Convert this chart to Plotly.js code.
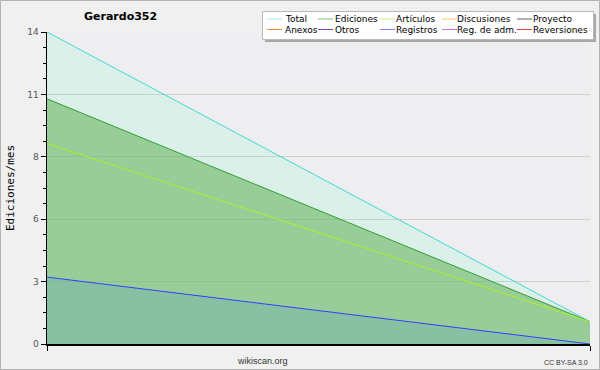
<!DOCTYPE html>
<html><head><meta charset="utf-8">
<script src="https://cdn.plot.ly/plotly-3.0.1.min.js"></script>
<style>html,body{margin:0;padding:0;background:#f0f0f0}#c{width:600px;height:370px}</style>
</head><body><div id="c"></div>
<script>
// Data
const periodo = [0, 1];
const total = [14, 1];
const ediciones = [11, 1];
const articulos = [9, 1];
const registros = [3, 0];
const yTickVals = [0, 2.8, 5.6, 8.4, 11.2, 14];
const yTickText = ['0', '3', '6', '8', '11', '14'];
const legendNames = [['Total','Ediciones','Artículos','Discusiones','Proyecto'],
                     ['Anexos','Otros','Registros','Reg. de adm.','Reversiones']];
const legendColors = [['#a8e8e8','#80c080','#c8f080','#f0d070','#606060'],
                      ['#f09050','#8040c0','#8080f0','#d070e0','#e04040']];

const L = 47, R = 590, T = 32, B = 344, W = 600, H = 370;
const X = px => (px - L) / (R - L);
const Y = py => (B - py) / (B - T);

const traces = [
  {x: periodo, y: total, mode: 'lines', fill: 'tozeroy', line: {color: '#40d8d0', width: 1}, fillcolor: 'rgba(138,248,205,0.2)', hoverinfo: 'skip'},
  {x: periodo, y: ediciones, mode: 'lines', fill: 'tozeroy', line: {color: '#30a030', width: 1}, fillcolor: 'rgba(108,180,98,0.6)', hoverinfo: 'skip'},
  {x: periodo, y: articulos, mode: 'lines', line: {color: '#b0f020', width: 1}, hoverinfo: 'skip'},
  {x: periodo, y: registros, mode: 'lines', fill: 'tozeroy', line: {color: '#3040ff', width: 1}, fillcolor: 'rgba(99,164,192,0.3)', hoverinfo: 'skip'}
];

const shapes = [
  {type: 'rect', xref: 'paper', yref: 'paper', x0: X(0.5), x1: X(599.5), y0: Y(0.5), y1: Y(369.5), line: {color: '#b4b4b4', width: 1}, layer: 'below'},
  // legend shadow and box
  {type: 'rect', xref: 'paper', yref: 'paper', x0: X(265), x1: X(596), y0: Y(14), y1: Y(42), fillcolor: '#a8a8a8', line: {width: 0}, layer: 'above'},
  {type: 'rect', xref: 'paper', yref: 'paper', x0: X(262.5), x1: X(593.5), y0: Y(11.5), y1: Y(39.5), fillcolor: '#ffffff', line: {color: '#b8b8b8', width: 1}, layer: 'above'}
];
const annotations = [
  {xref: 'paper', yref: 'paper', x: X(120), y: Y(17), text: '<b>Gerardo352</b>', showarrow: false, xanchor: 'center', yanchor: 'middle', font: {family: 'DejaVu Sans', size: 11, color: '#000'}},
  {xref: 'paper', yref: 'paper', x: X(262), y: Y(361), text: 'wikiscan.org', showarrow: false, xanchor: 'center', yanchor: 'middle', font: {family: 'Liberation Sans', size: 9, color: '#333'}},
  {xref: 'paper', yref: 'paper', x: X(590), y: Y(362), text: 'CC BY-SA 3.0', showarrow: false, xanchor: 'right', yanchor: 'middle', font: {family: 'Liberation Sans', size: 7, color: '#333'}}
];
const colLine = [267, 318, 380, 442, 517];
const colText = [285, 335, 396, 457, 533];
const rowY = [19, 29.5];
for (let r = 0; r < 2; r++) {
  for (let c = 0; c < 5; c++) {
    shapes.push({type: 'line', xref: 'paper', yref: 'paper', x0: X(colLine[c]), x1: X(colLine[c] + 15), y0: Y(rowY[r]), y1: Y(rowY[r]), line: {color: legendColors[r][c], width: 1}, layer: 'above'});
    annotations.push({xref: 'paper', yref: 'paper', x: X(colText[c] - 1), y: Y(rowY[r]), text: legendNames[r][c], showarrow: false, xanchor: 'left', yanchor: 'middle', font: {family: 'DejaVu Sans', size: 9, color: '#000'}, borderpad: 0});
  }
}

const layout = {
  width: W, height: H,
  margin: {l: L, r: W - R, t: T, b: H - B, pad: 0},
  paper_bgcolor: '#f0f0f0', plot_bgcolor: '#eeeef1',
  showlegend: false,
  font: {family: 'DejaVu Sans', size: 9, color: '#555'},
  xaxis: {range: [0, 1], showticklabels: false, tickvals: [0, 1], ticks: 'outside', ticklen: 5, tickcolor: '#000', showline: true, linecolor: '#000', linewidth: 1.5, showgrid: false, zeroline: false, fixedrange: true},
  yaxis: {range: [0, 14], tickvals: yTickVals, ticktext: yTickText, ticks: 'outside', ticklen: 5, tickcolor: '#000', showline: true, linecolor: '#000', linewidth: 1.5, showgrid: true, gridcolor: '#cfcfcf', gridwidth: 1, zeroline: false, tickfont: {family: 'DejaVu Sans', size: 9, color: '#555'},
    minor: {dtick: 0.7, ticks: 'outside', ticklen: 3, tickcolor: '#000', showgrid: false},
    title: {text: 'Ediciones/mes', font: {family: 'DejaVu Sans Mono', size: 11, color: '#000'}, standoff: 10}, fixedrange: true},
  shapes: shapes,
  annotations: annotations
};
Plotly.newPlot('c', traces, layout, {displayModeBar: false, staticPlot: true});
</script></body></html>
